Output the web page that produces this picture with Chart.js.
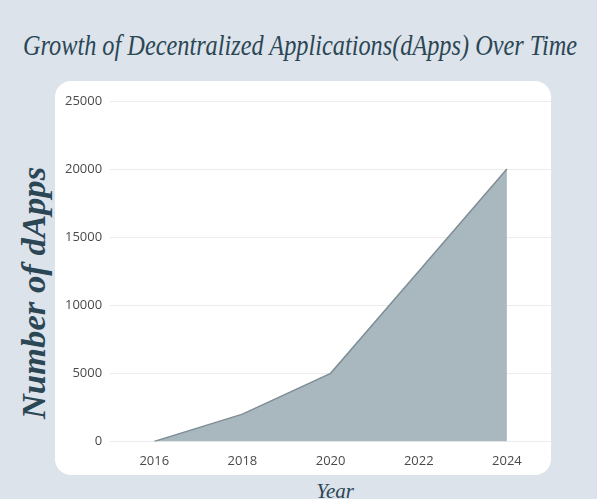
<!DOCTYPE html>
<html>
<head>
<meta charset="utf-8">
<script src="https://cdn.jsdelivr.net/npm/chart.js@4"></script>
<style>
    html, body { margin: 0; padding: 0; }
    body {
        width: 597px;
        height: 499px;
        background: #dde3ea;
        position: relative;
        overflow: hidden;
        font-family: "Liberation Serif", serif;
        color: #2b4756;
    }
    h1 {
        position: absolute;
        left: 300px;
        top: 25px;
        margin: 0;
        font-style: italic;
        font-weight: normal;
        font-size: 30px;
        line-height: 40px;
        white-space: nowrap;
        transform: translateX(-50%) scaleX(0.81);
    }
    .ytitle {
        position: absolute;
        left: 34px;
        top: 293px;
        transform: translate(-50%, -50%) rotate(-90deg) scaleX(1.02);
        font-style: italic;
        font-weight: bold;
        font-size: 34px;
        white-space: nowrap;
    }
    .xtitle {
        position: absolute;
        left: 335px;
        top: 479px;
        transform: translateX(-50%);
        font-style: italic;
        font-size: 21px;
        line-height: 24px;
    }
    .panel {
        position: absolute;
        left: 55px;
        top: 81px;
        width: 496px;
        height: 394px;
        background: #fff;
        border-radius: 16px;
        overflow: hidden;
    }
</style>
</head>
<body>
<h1>Growth of Decentralized Applications(dApps) Over Time</h1>
<div class="ytitle">Number of dApps</div>
<div class="xtitle">Year</div>
<div class="panel"><canvas id="dappsChart" width="496" height="400"></canvas></div>

<script>
// Data
const years = [2016, 2018, 2020, 2022, 2024];
const dappCounts = [0, 2000, 5000, 12500, 20000];
const yTicks = [0, 5000, 10000, 15000, 20000, 25000];

const points = years.map((year, i) => ({ x: year, y: dappCounts[i] }));

const ctx = document.getElementById('dappsChart').getContext('2d');

window.dappsChart = new Chart(ctx, {
    type: 'line',
    data: {
        datasets: [{
            label: 'dApps',
            data: points,
            borderColor: '#7f8e96',
            backgroundColor: '#a9b7be',
            borderWidth: 1.5,
            fill: 'origin',
            pointRadius: 0,
            tension: 0
        }]
    },
    options: {
        responsive: false,
        animation: false,
        layout: {
            padding: { top: 20, right: 0, bottom: 0, left: 2 }
        },
        plugins: {
            legend: { display: false },
            tooltip: { enabled: false }
        },
        scales: {
            x: {
                type: 'linear',
                min: 2015,
                max: 2025,
                afterBuildTicks: axis => {
                    axis.ticks = years.map(v => ({ value: v }));
                },
                grid: { display: false, drawTicks: false },
                border: { display: false },
                ticks: {
                    color: '#4a4a4a',
                    padding: 12,
                    font: { family: 'Open Sans', size: 13 },
                    callback: v => String(v)
                }
            },
            y: {
                min: 0,
                max: 25000,
                afterBuildTicks: axis => {
                    axis.ticks = yTicks.map(v => ({ value: v }));
                },
                grid: { color: '#ececec', drawTicks: false },
                border: { display: false },
                ticks: {
                    color: '#4a4a4a',
                    padding: 8,
                    font: { family: 'Open Sans', size: 13 },
                    callback: v => String(v)
                }
            }
        }
    }
});
</script>
</body>
</html>
